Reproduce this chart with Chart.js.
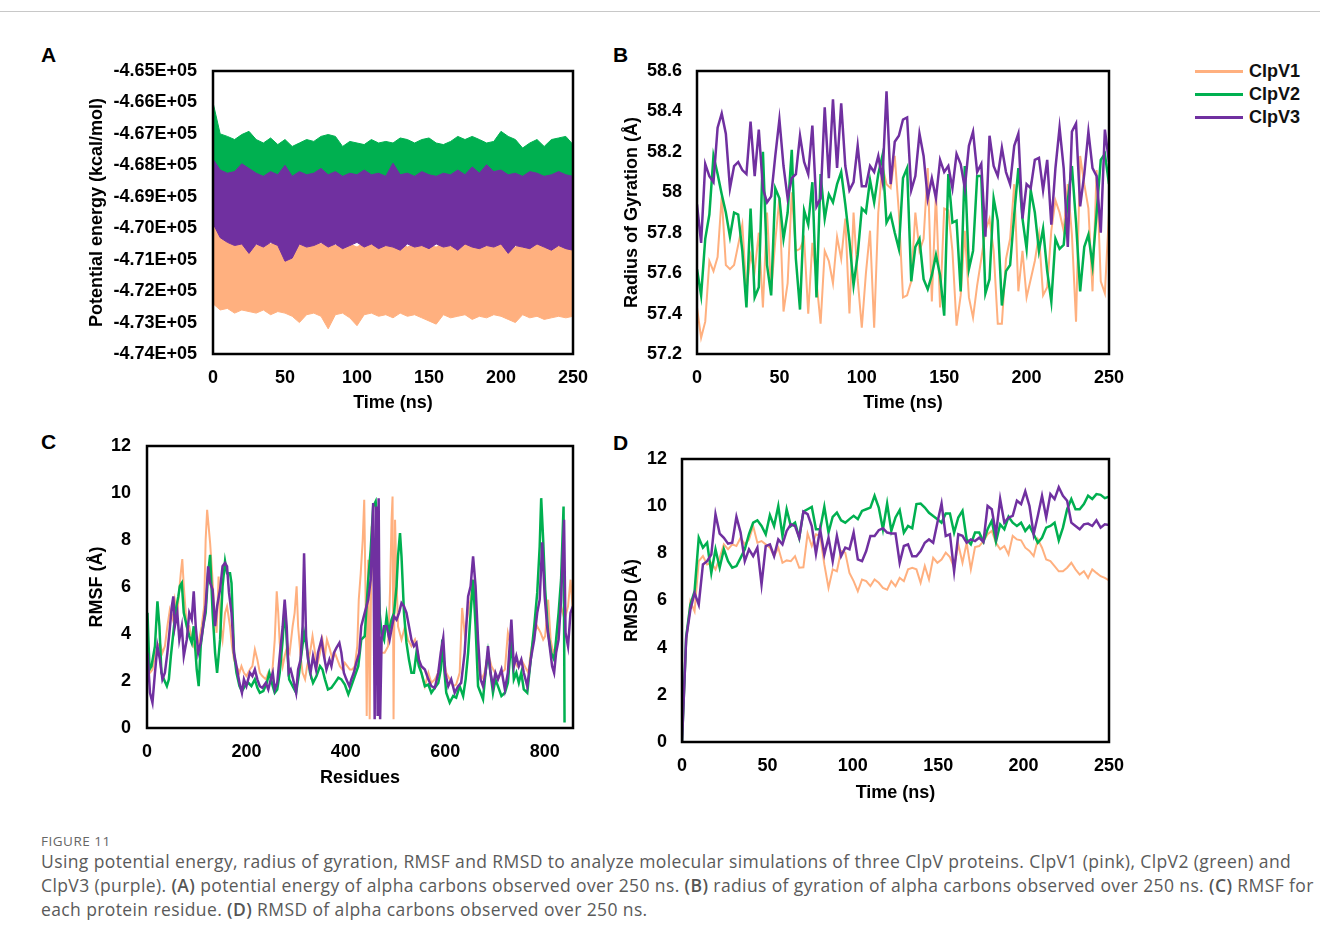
<!DOCTYPE html>
<html>
<head>
<meta charset="utf-8">
<script src="https://cdn.jsdelivr.net/npm/chart.js@4.4.1/dist/chart.umd.min.js"></script>
<style>
body { margin: 0; background: #fff; width: 1320px; height: 940px; position: relative; overflow: hidden; font-family: "Liberation Sans", Arial, sans-serif; }
canvas { position: absolute; }
.topline { position: absolute; left: 0; top: 11px; width: 1320px; height: 1px; background: #c8c8c8; }
.letter { position: absolute; font-weight: bold; font-size: 21px; color: #000; }
.leg { position: absolute; left: 1195px; font-weight: bold; font-size: 18px; color: #111; }
.leg span { display: inline-block; width: 48px; height: 3px; vertical-align: middle; margin-right: 6px; position: relative; top: -1px; }
#figno { position: absolute; left: 41px; top: 832px; font-family: "Open Sans", sans-serif; font-size: 13.5px; color: #666; letter-spacing: 0.5px; }
#cap { position: absolute; left: 41px; top: 849px; font-family: "Open Sans", sans-serif; font-size: 17.5px; letter-spacing: 0.39px; line-height: 24px; color: #5a5a5a; white-space: nowrap; }
#cap b { font-weight: 600; color: #555; }
</style>
</head>
<body>
<div class="topline"></div>
<div class="letter" style="left:41px;top:43px">A</div>
<div class="letter" style="left:613px;top:43px">B</div>
<div class="letter" style="left:41px;top:430px">C</div>
<div class="letter" style="left:613px;top:431px">D</div>
<canvas id="chartA"></canvas>
<canvas id="chartB"></canvas>
<canvas id="chartC"></canvas>
<canvas id="chartD"></canvas>
<div class="leg" style="top:61px"><span style="background:#FFB07F"></span>ClpV1</div>
<div class="leg" style="top:84px"><span style="background:#00B050"></span>ClpV2</div>
<div class="leg" style="top:107px"><span style="background:#7030A0"></span>ClpV3</div>
<div id="figno">FIGURE 11</div>
<div id="cap">Using potential energy, radius of gyration, RMSF and RMSD to analyze molecular simulations of three ClpV proteins. ClpV1 (pink), ClpV2 (green) and<br>ClpV3 (purple). <b>(A)</b> potential energy of alpha carbons observed over 250 ns. <b>(B)</b> radius of gyration of alpha carbons observed over 250 ns. <b>(C)</b> RMSF for<br>each protein residue. <b>(D)</b> RMSD of alpha carbons observed over 250 ns.</div>
<script>
var names = ["ClpV1", "ClpV2", "ClpV3"];
var colors = ["#FFB07F", "#00B050", "#7030A0"];

// A: potential energy, band edges every 5 ns (kcal/mol)
var aStep = 5;
var aV1High = [-469700,-470200,-470350,-470400,-470500,-470450,-470550,-470400,-470500,-470450,
  -470550,-470400,-470500,-470600,-470450,-470500,-470400,-470550,-470450,-470500,
  -470600,-470450,-470500,-470400,-470550,-470500,-470450,-470600,-470500,-470450,
  -470550,-470600,-470450,-470500,-470550,-470450,-470500,-470600,-470450,-470550,
  -470500,-470450,-470600,-470500,-470550,-470450,-470600,-470500,-470550,-470600,-470700];
var aV1Low = [-472400,-472600,-472550,-472700,-472600,-472650,-472700,-472600,-472750,-472650,
  -472700,-472800,-473000,-472750,-472700,-472800,-473200,-472750,-472700,-472850,
  -473100,-472750,-472700,-472800,-472750,-472850,-472700,-472800,-472750,-472850,
  -472950,-473050,-472750,-472850,-472800,-472750,-472900,-472800,-472850,-472750,
  -472800,-472900,-473000,-472750,-472850,-472800,-472900,-472850,-472800,-472850,-472800];
var aV2High = [-466000,-467000,-467080,-467180,-467020,-466920,-467180,-467290,-467130,-467340,
  -467180,-467400,-467290,-467180,-467240,-467080,-467020,-467080,-467400,-467240,
  -467290,-467340,-467180,-467290,-467240,-467290,-467130,-467180,-467290,-467180,
  -467130,-467290,-467340,-467240,-467080,-467180,-467080,-467180,-467290,-467240,
  -466920,-467080,-467180,-467450,-467290,-467180,-467400,-467180,-467130,-467080,-467340];
var aV2Low = [-468000,-468600,-468700,-468650,-468700,-468600,-468750,-468700,-468650,-468700,
  -468750,-468650,-468700,-468600,-468700,-468750,-468650,-468700,-468700,-468650,
  -468750,-468700,-468600,-468700,-468650,-468700,-468750,-468700,-468650,-468700,
  -468600,-468700,-468750,-468650,-468700,-468700,-468650,-468750,-468700,-468600,
  -468700,-468650,-468700,-468750,-468700,-468650,-468700,-468600,-468700,-468750,-468700];
var aV3High = [-467800,-468150,-468250,-468200,-467950,-468100,-468250,-468350,-468200,-468300,
  -468000,-468350,-468200,-468300,-468250,-468100,-468300,-468200,-468350,-468250,
  -468300,-468150,-468300,-468250,-468350,-467930,-468300,-468250,-468350,-468200,
  -468300,-468350,-468250,-468300,-468150,-468300,-468050,-468250,-467980,-468200,
  -468150,-468300,-468250,-468350,-468200,-468250,-468350,-468300,-468200,-468300,-468350];
var aV3Low = [-469850,-470300,-470450,-470550,-470500,-470800,-470500,-470600,-470450,-470550,
  -471050,-470950,-470500,-470600,-470550,-470450,-470600,-470500,-470650,-470550,
  -470450,-470600,-470500,-470650,-470550,-470600,-470700,-470500,-470600,-470550,
  -470650,-470500,-470600,-470550,-470700,-470500,-470600,-470650,-470550,-470600,
  -470500,-470800,-470550,-470600,-470650,-470500,-470600,-470700,-470550,-470650,-470700];
var aYTicks = ["-4.74E+05","-4.73E+05","-4.72E+05","-4.71E+05","-4.70E+05","-4.69E+05","-4.68E+05","-4.67E+05","-4.66E+05","-4.65E+05"];

// B: radius of gyration every 2.5 ns
var bStep = 2.5;
var bV1 = [57.43,57.28,57.36,57.66,57.61,57.68,57.98,57.64,57.62,57.64,57.74,57.84,57.51,57.69,57.61,57.80,57.43,57.90,57.51,57.76,
  57.97,57.41,57.55,58.00,57.71,57.72,57.77,57.40,57.75,57.56,57.35,57.71,57.66,57.55,57.78,57.67,57.87,57.40,57.90,57.57,
  57.33,57.60,57.81,57.33,57.90,58.13,58.04,58.02,58.18,57.90,57.48,
  57.49,57.56,57.90,57.71,57.77,58.12,57.46,58.00,57.43,57.92,57.91,57.71,57.34,57.49,57.81,57.48,57.38,57.54,57.67,57.81,
  57.87,57.71,57.35,57.35,57.67,57.77,58.04,57.51,57.71,57.48,57.57,57.66,57.79,57.49,57.53,57.81,57.96,57.90,57.81,58.04,
  57.79,57.36,58.18,58.04,57.92,57.51,58.11,57.56,57.50,57.90];
var bV2 = [57.62,57.49,57.77,57.89,58.18,58.09,57.99,57.90,57.78,57.90,57.89,57.71,57.43,57.92,57.48,57.53,58.20,57.64,57.49,58.02,
  57.97,57.77,57.90,58.21,57.67,57.42,57.91,57.84,58.05,57.48,58.09,57.87,57.99,57.95,58.04,58.10,57.94,57.76,57.54,57.69,
  57.92,57.90,58.06,57.95,58.09,58.18,57.85,57.89,57.80,57.72,58.07,
  58.12,57.56,57.73,57.77,57.57,57.52,57.59,57.69,57.59,57.39,58.09,57.85,57.86,57.51,58.13,57.62,57.71,58.08,58.08,57.50,
  57.57,57.97,57.86,57.44,57.61,57.64,57.89,58.12,57.87,57.72,58.01,57.90,57.71,57.82,57.61,57.46,57.77,57.72,57.74,57.96,
  58.13,57.85,57.51,57.73,57.79,57.64,57.90,58.16,58.19,58.04];
var bV3 = [57.94,57.75,58.14,58.08,58.05,58.32,58.39,58.29,58.02,58.13,58.15,58.11,58.09,58.35,58.08,58.31,58.02,57.95,57.98,58.18,
  58.36,58.13,57.97,58.07,58.09,58.28,58.15,58.09,58.33,57.93,57.97,58.42,58.07,58.46,58.12,58.44,58.13,58.01,58.05,58.23,
  58.03,58.03,58.13,58.10,58.18,58.06,58.50,58.04,58.25,58.28,58.36,
  58.37,58.01,58.08,58.29,58.18,57.97,58.07,57.97,58.16,58.10,58.13,58.02,58.19,58.14,58.02,58.23,58.30,58.10,58.14,57.78,
  58.28,58.13,58.08,58.22,58.10,58.04,58.23,58.29,57.87,58.04,58.02,58.16,58.17,58.01,58.16,57.84,58.12,58.32,58.12,57.73,
  58.30,58.34,57.93,58.09,58.30,58.12,58.08,57.80,58.31,58.15];
var bYTicks = ["57.2","57.4","57.6","57.8","58","58.2","58.4","58.6"];

// C: RMSF per residue (residue, value) read at the curve's turning points
var cV1Res = [1,6,11,16,21,26,31,36,41,46,52,56,61,65,68,71,74,80,85,90,94,100,105,110,115,118,121,124,127,131,
  135,140,144,148,152,157,161,167,171,175,180,186,190,195,200,207,212,217,222,227,232,239,244,251,257,261,264,267,273,277,
  282,287,293,297,301,304,309,313,318,322,328,333,338,342,348,353,358,362,368,373,378,383,388,393,398,403,408,413,418,423,
  426,430,434,437,440,442,445,448,452,456,460,465,472,478,485,489,492,494,496,499,502,505,512,519,525,532,539,545,552,559,
  566,572,579,586,591,596,602,609,616,622,629,634,639,646,651,656,661,666,673,679,686,693,700,706,713,720,726,732,738,745,
  753,760,767,772,779,785,792,797,801,807,812,817,823,828,833,840,847,852,857];
var cV1Val = [3.06,2.35,2.49,3.06,3.48,3.62,3.20,3.48,4.33,5.04,4.61,5.46,4.90,5.89,6.59,7.19,6.03,4.33,4.33,3.76,
  3.48,3.20,3.76,4.33,5.18,8.01,9.28,8.58,7.87,6.59,5.18,4.05,6.45,4.33,3.76,4.90,5.18,4.33,3.48,2.91,
  2.63,2.35,2.63,2.35,2.21,2.49,2.63,3.34,2.91,2.35,2.21,2.07,2.35,2.07,3.76,5.82,4.90,3.62,2.63,3.06,
  3.48,3.20,4.33,4.90,6.03,4.33,3.06,2.35,2.07,2.63,3.20,3.91,3.20,2.63,3.20,3.76,3.06,3.76,3.34,2.91,
  3.20,2.91,2.63,2.49,2.77,2.63,2.49,2.49,2.63,3.48,
  5.46,6.59,8.01,9.71,5.18,0.51,7.16,0.37,8.58,6.31,4.33,3.48,3.20,3.20,3.48,5.89,8.86,9.85,0.37,8.86,
  6.31,4.33,3.76,4.33,3.76,3.48,3.76,3.20,2.35,1.78,2.35,1.92,2.07,2.35,2.91,3.06,2.35,2.07,1.78,1.85,
  2.35,5.11,4.05,4.90,5.46,6.31,4.90,2.63,2.07,2.35,3.20,2.63,2.35,2.07,2.35,2.49,4.05,3.48,2.91,2.63,
  2.91,2.63,2.35,3.20,4.05,4.33,4.05,3.76,3.91,5.46,3.76,3.20,3.48,4.33,5.18,4.61,5.18,6.31,4.90];
var cV2Res = [1,5,9,16,21,25,29,34,40,44,48,53,58,63,66,70,74,80,85,90,94,100,104,108,113,118,123,127,132,137,
  141,147,152,157,161,167,170,175,180,186,191,197,204,210,217,222,227,234,241,246,253,257,262,267,273,277,281,286,293,300,
  306,311,316,321,328,334,341,348,353,358,364,371,378,385,391,398,405,411,418,425,
  431,438,445,450,455,460,464,468,472,477,482,486,492,497,502,505,509,512,517,522,527,532,537,542,547,552,559,566,572,579,
  586,591,594,598,602,609,616,622,629,636,641,646,651,656,661,666,671,676,681,686,691,696,701,706,713,720,726,733,738,743,
  748,753,758,765,772,779,785,790,793,797,801,807,813,819,823,828,833,838,840];
var cV2Val = [4.90,2.49,2.63,3.48,5.39,4.33,2.35,2.07,1.78,2.07,3.06,4.05,5.04,5.60,6.03,6.17,4.90,4.33,3.91,3.62,
  4.33,2.49,1.78,3.48,4.33,4.90,6.59,7.37,4.90,3.20,2.35,3.76,6.03,7.09,6.59,6.59,6.17,3.20,2.35,1.78,
  1.57,1.78,1.92,1.78,2.07,1.71,1.50,1.57,1.92,2.35,1.78,1.50,1.64,2.35,3.76,5.18,3.76,2.07,1.78,1.50,
  2.35,3.20,4.05,3.48,2.35,1.92,2.21,2.63,2.49,2.07,1.64,1.71,1.92,2.14,2.07,1.85,1.43,1.78,2.21,2.63,
  3.76,3.91,6.31,7.58,9.42,9.64,8.58,4.90,4.05,3.76,4.75,4.05,4.61,4.90,6.03,7.30,8.29,7.30,4.90,3.62,
  2.91,2.35,2.35,3.20,2.63,2.35,1.78,1.85,1.50,1.71,1.92,2.49,3.76,2.49,1.50,1.08,1.36,1.29,1.78,1.36,
  2.07,3.20,4.90,6.31,4.33,1.78,1.50,1.22,2.35,3.20,2.35,1.50,2.07,1.78,1.36,1.50,1.92,3.76,2.07,2.35,
  1.92,2.35,1.64,1.50,2.91,4.33,5.75,7.73,9.78,8.01,5.89,4.05,3.20,2.91,3.76,4.90,6.31,9.42,0.23];
var cV3Res = [1,6,11,16,21,26,31,36,41,45,50,53,56,61,65,70,74,80,85,90,94,98,103,108,113,118,123,127,132,137,
  141,147,152,157,161,165,170,175,180,186,191,195,200,207,212,217,222,227,232,239,244,249,253,257,262,267,273,277,281,285,
  289,294,300,304,309,313,316,320,324,329,334,340,344,351,356,361,367,371,376,381,387,391,396,401,407,411,416,421,427,
  431,438,445,450,455,458,461,464,466,469,472,477,482,488,493,497,502,507,512,517,522,527,532,537,542,547,552,559,566,572,
  579,586,591,596,600,606,612,619,626,632,639,646,651,656,661,666,671,676,681,686,691,696,701,706,713,720,726,733,738,743,
  748,753,758,765,772,779,785,790,795,800,805,810,815,819,823,828,833,839,842,847,852,857];
var cV3Val = [3.20,1.50,1.08,2.35,3.48,2.91,2.07,2.35,3.20,4.05,5.18,5.60,4.33,4.90,3.76,4.33,3.06,3.76,4.90,4.61,
  5.82,4.33,3.20,3.62,4.33,5.18,6.88,6.17,5.89,4.33,5.18,5.89,6.88,7.02,6.88,5.75,4.90,3.20,2.63,1.92,
  1.50,2.07,1.78,2.35,2.21,2.49,2.07,1.78,1.71,1.92,1.64,2.07,2.35,1.64,1.92,3.06,4.33,5.46,4.33,2.35,
  2.49,2.07,1.50,2.49,2.91,4.33,7.44,3.91,2.91,2.35,3.06,2.49,3.20,3.76,3.06,2.49,2.91,2.63,3.20,3.41,
  3.62,3.20,2.35,2.07,1.78,2.07,2.35,2.77,3.20,
  4.33,4.90,5.46,6.31,9.57,0.37,9.42,0.51,9.78,0.37,3.76,4.33,4.33,3.76,4.33,4.75,4.61,4.90,5.32,5.18,
  4.90,4.33,3.76,3.48,3.62,2.91,2.63,2.49,2.07,1.78,1.71,2.35,3.20,3.83,2.35,1.78,2.07,1.50,1.78,1.92,
  3.20,5.60,6.03,7.30,6.03,3.76,2.07,1.78,2.35,3.48,2.35,1.78,2.35,2.07,2.49,1.64,2.35,4.61,2.63,3.06,
  2.63,2.91,2.35,1.78,2.91,3.76,4.90,5.46,7.90,5.60,4.33,3.48,2.63,2.35,3.20,3.76,5.46,8.86,4.05,3.48,4.90,5.18];
var cXTicks = [0, 200, 400, 600, 800];

// D: RMSD, 103 frames over 250 ns
var dStep = 250 / 102;
var dV1 = [0,4.26,5.97,5.54,7.67,7.88,7.53,7.60,7.32,7.81,8.38,8.17,8.38,8.31,8.66,8.38,8.59,9.16,8.45,8.52,
  8.38,8.24,7.88,8.24,7.60,7.70,7.67,7.88,7.39,7.41,8.84,8.31,8.81,8.74,7.53,6.53,7.32,7.24,8.10,8.03,
  7.17,6.82,6.39,6.89,6.82,6.61,6.89,6.75,6.53,6.46,6.82,6.61,
  6.96,6.82,7.32,7.39,7.32,6.75,7.46,6.89,7.81,7.60,7.74,8.03,7.84,7.39,8.38,7.60,8.45,7.32,8.27,8.31,
  8.52,8.81,8.95,8.45,8.17,8.31,7.95,8.74,8.59,8.55,8.24,8.10,7.88,8.59,8.24,7.74,7.67,7.46,7.24,7.24,
  7.39,7.60,7.32,7.10,7.24,6.96,7.32,7.17,7.03,6.96,6.85];
var dV2 = [0,4.47,5.82,6.39,8.66,8.24,8.45,7.17,8.17,7.39,8.17,7.67,7.39,7.46,7.81,8.17,8.81,9.30,9.40,9.16,
  8.81,9.62,9.16,10.01,8.74,9.87,9.16,9.30,8.66,9.77,9.87,9.97,9.02,9.02,9.97,8.88,9.55,9.73,9.40,9.30,
  9.45,9.59,9.45,9.80,9.87,9.94,10.44,9.94,9.02,10.11,8.95,9.52,
  9.83,8.88,9.16,9.06,10.09,10.11,9.94,9.72,9.58,9.45,9.30,9.69,9.69,8.88,9.52,9.80,8.59,8.38,8.88,8.88,
  8.49,9.02,9.38,8.49,9.23,9.02,9.55,9.30,9.16,9.30,8.95,9.16,8.81,8.45,8.66,9.09,9.16,9.30,8.55,9.09,
  9.87,10.30,9.87,9.87,10.09,10.44,10.30,10.51,10.48,10.34,10.40];
var dV3 = [0,4.40,5.61,6.32,5.82,7.53,7.67,7.95,9.66,8.84,8.66,8.41,8.45,9.55,8.88,7.67,8.17,7.88,8.24,6.68,
  8.31,8.38,7.88,8.59,8.38,8.95,9.23,9.16,8.66,9.77,9.66,9.16,7.98,9.02,7.95,8.66,7.67,8.74,7.88,8.24,
  8.17,8.88,7.74,7.67,8.10,8.74,8.74,8.98,9.06,8.88,8.84,8.84,
  7.60,8.31,8.38,7.88,7.88,8.10,8.45,8.59,8.45,9.30,10.11,8.74,8.81,7.24,8.81,8.74,8.45,8.59,8.52,8.66,
  8.49,10.01,9.87,8.81,10.30,9.30,9.52,9.59,10.23,10.09,10.63,10.01,8.81,9.59,10.44,9.52,10.51,10.30,10.80,10.44,
  10.23,9.30,9.16,9.02,9.23,9.26,9.16,9.40,9.09,9.23,9.20];

var FONT = "'Liberation Sans', Arial, sans-serif";

function stepped(values, step) {
  return values.map(function (v, i) { return { x: i * step, y: v }; });
}
function paired(xs, ys) {
  return xs.map(function (x, i) { return { x: x, y: ys[i] }; });
}

var frame = {
  id: 'frame',
  afterDatasetsDraw: function (chart) {
    var a = chart.chartArea, ctx = chart.ctx;
    ctx.save();
    ctx.strokeStyle = '#000';
    ctx.lineWidth = 2.5;
    ctx.strokeRect(a.left, a.top, a.right - a.left, a.bottom - a.top);
    ctx.restore();
  }
};

function panel(id, area, yTitleX, xTitleY, yTickPad, xScale, yScale, datasets) {
  var off = 14.8;
  var padTop = 32;
  var left = Math.round(yTitleX - off - 10);
  var top = area.top - padTop;
  var right = area.right + 30;
  var bottom = Math.round(xTitleY + off + 6);
  var c = document.getElementById(id);
  c.width = right - left;
  c.height = bottom - top;
  c.style.left = left + 'px';
  c.style.top = top + 'px';
  var yW = area.left - (left + 10);
  var xH = (xTitleY + off) - area.bottom;
  var tickFont = { family: FONT, size: 18, weight: 'bold' };
  var titleFont = { family: FONT, size: 18, weight: 'bold' };
  return new Chart(c, {
    type: 'line',
    data: { datasets: datasets },
    options: {
      responsive: false,
      animation: false,
      events: [],
      layout: { padding: { left: 10, top: padTop, right: 30, bottom: bottom - (xTitleY + off) } },
      plugins: { legend: { display: false }, tooltip: { enabled: false } },
      elements: { point: { radius: 0 }, line: { tension: 0 } },
      scales: {
        x: {
          type: 'linear', min: xScale.min, max: xScale.max,
          ticks: { stepSize: xScale.step, padding: 13, font: tickFont, color: '#000', maxRotation: 0, autoSkip: false },
          grid: { display: false, drawTicks: false },
          border: { display: false },
          title: { display: true, text: xScale.title, font: titleFont, color: '#000', padding: { top: 4, bottom: 4 } },
          afterBuildTicks: xScale.ticks ? function (s) {
            s.ticks = xScale.ticks.map(function (v) { return { value: v }; });
          } : undefined,
          afterFit: function (s) { s.height = xH; }
        },
        y: {
          type: 'linear', min: yScale.min, max: yScale.max,
          ticks: { stepSize: yScale.step, padding: yTickPad, font: tickFont, color: '#000', autoSkip: false,
            callback: yScale.labels ? function (v) { return yScale.labels[Math.round((v - yScale.min) / yScale.step)]; } : undefined },
          grid: { display: false, drawTicks: false },
          border: { display: false },
          title: { display: true, text: yScale.title, font: titleFont, color: '#000', padding: { top: 4, bottom: 4 } },
          afterFit: function (s) { s.width = yW; }
        }
      }
    },
    plugins: [frame]
  });
}

function band(low, high, color) {
  return [
    { data: stepped(low, aStep), borderColor: color, borderWidth: 1, fill: false },
    { data: stepped(high, aStep), borderColor: color, borderWidth: 1, backgroundColor: color, fill: '-1' }
  ];
}
function line(points, i) {
  return { label: names[i], data: points, borderColor: colors[i], borderWidth: i === 0 ? 2 : 2.5, fill: false, order: 3 - i };
}

// purple first so it is drawn on top
var aSets = [].concat(band(aV3Low, aV3High, colors[2]), band(aV2Low, aV2High, colors[1]), band(aV1Low, aV1High, colors[0]));
panel('chartA', { left: 213, top: 71, right: 573, bottom: 354 }, 97, 403, 16,
  { min: 0, max: 250, step: 50, title: 'Time (ns)' },
  { min: -474000, max: -465000, step: 1000, title: 'Potential energy (kcal/mol)', labels: aYTicks },
  aSets);

panel('chartB', { left: 697, top: 71, right: 1109, bottom: 354 }, 632, 403, 15,
  { min: 0, max: 250, step: 50, title: 'Time (ns)' },
  { min: 57.2, max: 58.6, step: 0.2, title: 'Radius of Gyration (Å)', labels: bYTicks },
  [line(stepped(bV1, bStep), 0), line(stepped(bV2, bStep), 1), line(stepped(bV3, bStep), 2)]);

panel('chartC', { left: 147, top: 446, right: 573, bottom: 728 }, 97, 778, 16,
  { min: 0, max: 857, step: 200, title: 'Residues', ticks: cXTicks },
  { min: 0, max: 12, step: 2, title: 'RMSF (Å)' },
  [line(paired(cV1Res, cV1Val), 0), line(paired(cV2Res, cV2Val), 1), line(paired(cV3Res, cV3Val), 2)]);

panel('chartD', { left: 682, top: 459, right: 1109, bottom: 742 }, 632, 793, 15,
  { min: 0, max: 250, step: 50, title: 'Time (ns)' },
  { min: 0, max: 12, step: 2, title: 'RMSD (Å)' },
  [line(stepped(dV1, dStep), 0), line(stepped(dV2, dStep), 1), line(stepped(dV3, dStep), 2)]);
</script>
</body>
</html>
